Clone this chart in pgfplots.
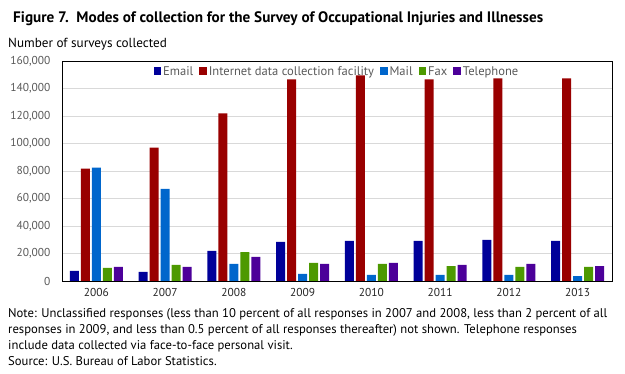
\documentclass[border=0pt]{standalone}
\usepackage{fontspec}
\setmainfont{PT Sans}
\usepackage{pgfplots}
\pgfplotsset{compat=1.18}
\definecolor{cEmail}{RGB}{0,0,153}
\definecolor{cNet}{RGB}{153,0,0}
\definecolor{cMail}{RGB}{0,102,204}
\definecolor{cFax}{RGB}{77,153,0}
\definecolor{cTel}{RGB}{76,0,153}
\definecolor{txtgray}{RGB}{89,89,89}
\definecolor{gridgray}{RGB}{217,217,217}
\begin{document}
\begin{tikzpicture}
\path (-62bp,-93bp) rectangle (563bp,281bp);
\begin{axis}[
  at={(0,0)}, anchor=south west,
  scale only axis, width=550bp, height=220bp,
  ybar=2bp, bar width=9bp,
  xmin=-0.5, xmax=7.5, ymin=0, ymax=160000,
  xtick={0,...,7}, xticklabels={2006,2007,2008,2009,2010,2011,2012,2013},
  ytick={0,20000,40000,60000,80000,100000,120000,140000,160000},
  yticklabels={0,{20,000},{40,000},{60,000},{80,000},{100,000},{120,000},{140,000},{160,000}},
  scaled y ticks=false,
  major tick length=0pt,
  ymajorgrids, grid style={gridgray, line width=0.8bp},
  axis line style={black, line width=0.9bp},
  tick label style={font=\fontsize{11.5}{14}\selectfont},
  yticklabel style={xshift=-8bp, text=txtgray},
  xticklabel style={yshift=-4bp, text=black!85},
  legend style={at={(0.5,1)}, anchor=north, draw=none, fill=none,
    legend columns=-1, font=\fontsize{12.6}{14}\selectfont, text=txtgray,
    /tikz/every even column/.append style={column sep=4bp}, yshift=-1bp},
  legend image code/.code={\fill[#1, draw=none] (0bp,-3.5bp) rectangle (7.5bp,4bp);},
]
\addplot[fill=cEmail, draw=none] coordinates {(0,7300) (1,6600) (2,21900) (3,28500) (4,29200) (5,29200) (6,29900) (7,29200)};
\addplot[fill=cNet, draw=none] coordinates {(0,81750) (1,97000) (2,121900) (3,146700) (4,149600) (5,146700) (6,147400) (7,147400)};
\addplot[fill=cMail, draw=none] coordinates {(0,82500) (1,67000) (2,12400) (3,5100) (4,4400) (5,4400) (6,4400) (7,3600)};
\addplot[fill=cFax, draw=none] coordinates {(0,9500) (1,11700) (2,21000) (3,13100) (4,12400) (5,10900) (6,10200) (7,10200)};
\addplot[fill=cTel, draw=none] coordinates {(0,10200) (1,10200) (2,17500) (3,12400) (4,13100) (5,11700) (6,12400) (7,10900)};
\legend{Email, Internet data collection facility, Mail, Fax, Telephone}
\end{axis}
\node[anchor=base west, inner sep=0pt, font=\fontsize{15.25}{16}\selectfont\bfseries] at (-49bp,258.5bp) {Figure 7.\ \ Modes of collection for the Survey of Occupational Injuries and Illnesses};
\node[anchor=base west, inner sep=0pt, font=\fontsize{13.2}{14}\selectfont] at (-54bp,233.5bp) {Number of surveys collected};
\begin{scope}[every node/.style={anchor=base west, inner sep=0pt, font=\fontsize{12.7}{14}\selectfont}]
\node at (-54bp,-36bp) {Note: Unclassified responses (less than 10 percent of all responses in 2007 and 2008, less than 2 percent of all};
\node at (-54bp,-52bp) {responses in 2009, and less than 0.5 percent of all responses thereafter) not shown. Telephone responses};
\node at (-54bp,-68bp) {include data collected via face-to-face personal visit.};
\node at (-54bp,-84bp) {Source: U.S. Bureau of Labor Statistics.};
\end{scope}
\end{tikzpicture}
\end{document}
